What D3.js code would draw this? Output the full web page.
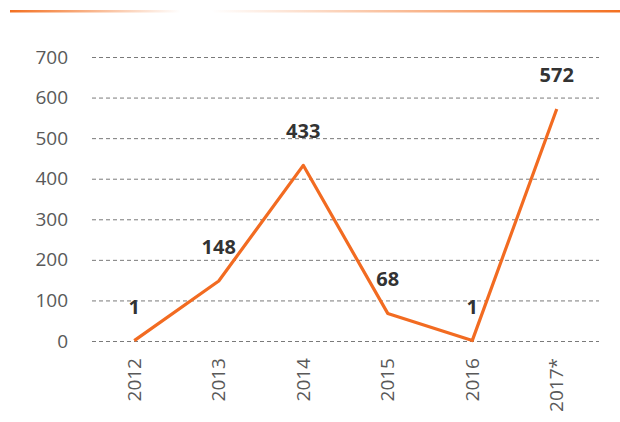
<!DOCTYPE html>
<html>
<head>
<meta charset="utf-8">
<script src="https://cdn.jsdelivr.net/npm/d3@7"></script>
<style>
  body { margin: 0; background: #fff; }
  svg { display: block; }
  .tick text { font-family: "Open Sans", sans-serif; fill: #595959; }
  .lbl { font-family: "Open Sans", sans-serif; font-weight: bold; fill: #333; }
</style>
</head>
<body>
<svg id="chart" width="620" height="422"></svg>
<script>
// chart values
var years = ['2012', '2013', '2014', '2015', '2016', '2017*'];
var counts = [1, 148, 433, 68, 1, 572];
var yTicks = [0, 100, 200, 300, 400, 500, 600, 700];

var svg = d3.select('#chart'),
    plotL = 92, plotR = 599, plotT = 57, plotB = 341;

// orange rule on top, fading out in the middle
var grad = svg.append('defs').append('linearGradient')
    .attr('id', 'topRule').attr('x1', '0%').attr('x2', '100%');
grad.append('stop').attr('offset', '0%').attr('stop-color', '#f37021').attr('stop-opacity', 1);
grad.append('stop').attr('offset', '28%').attr('stop-color', '#f37021').attr('stop-opacity', 0);
grad.append('stop').attr('offset', '33%').attr('stop-color', '#f37021').attr('stop-opacity', 0);
grad.append('stop').attr('offset', '100%').attr('stop-color', '#f37021').attr('stop-opacity', 1);
svg.append('rect')
    .attr('x', 10).attr('y', 10).attr('width', 610).attr('height', 2.5)
    .attr('fill', 'url(#topRule)');

var x = d3.scaleBand().domain(years).range([plotL, plotR]);
var y = d3.scaleLinear().domain([0, 700]).range([plotB, plotT]);

// gridlines + y labels
var yAxis = svg.append('g')
    .attr('transform', 'translate(' + plotL + ',0)')
    .call(d3.axisLeft(y).tickValues(yTicks).tickSize(-(plotR - plotL)).tickPadding(24));
yAxis.select('.domain').remove();
yAxis.selectAll('.tick line')
    .attr('stroke', '#7a7a7a').attr('stroke-dasharray', '4,3');
yAxis.selectAll('.tick text').style('font-size', '19px');

// x labels, rotated
var xAxis = svg.append('g')
    .attr('transform', 'translate(0,' + plotB + ')')
    .call(d3.axisBottom(x).tickSize(0));
xAxis.select('.domain').remove();
xAxis.selectAll('.tick text')
    .style('font-size', '19px')
    .attr('transform', 'rotate(-90)')
    .attr('text-anchor', 'end')
    .attr('dy', '0.35em')
    .attr('x', -17).attr('y', 0);

var cx = function(d, i) { return x(years[i]) + x.bandwidth() / 2; };

svg.append('path')
    .datum(counts)
    .attr('fill', 'none')
    .attr('stroke', '#f26b21')
    .attr('stroke-width', 3.2)
    .attr('stroke-linejoin', 'round')
    .attr('d', d3.line().x(cx).y(function(d) { return y(d); }));

svg.selectAll('text.lbl')
    .data(counts)
    .enter().append('text')
    .attr('class', 'lbl')
    .attr('x', cx)
    .attr('y', function(d) { return y(d) - 27; })
    .attr('text-anchor', 'middle')
    .style('font-size', '20px')
    .text(function(d) { return d; });
</script>
</body>
</html>
